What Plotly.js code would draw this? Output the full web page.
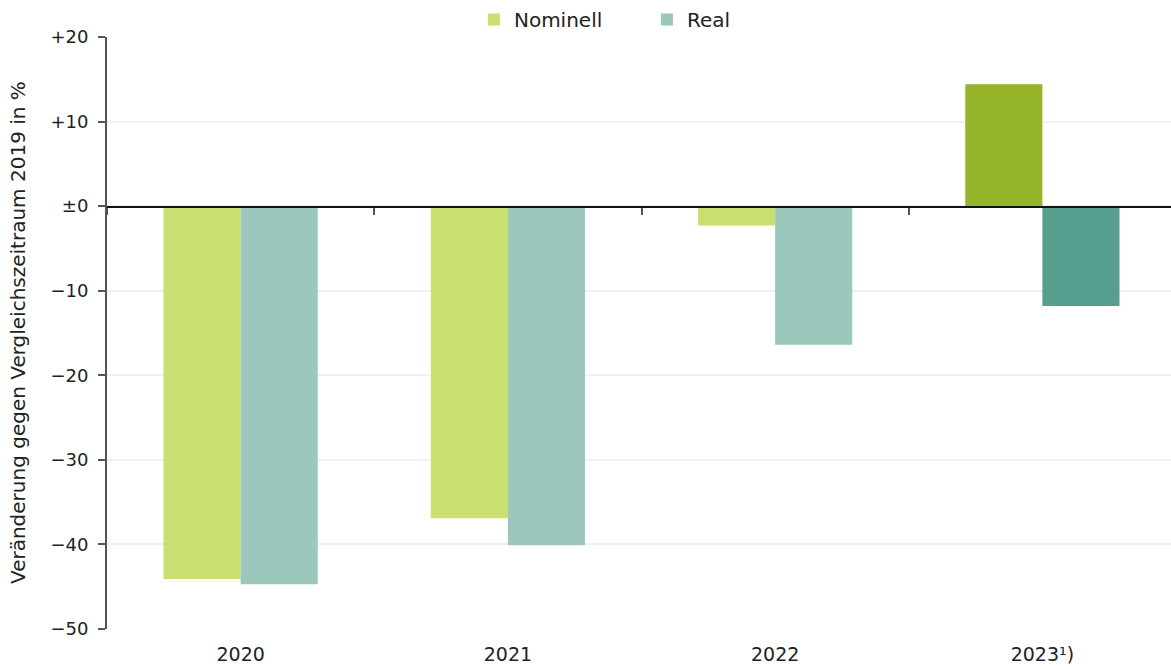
<!DOCTYPE html>
<html>
<head>
<meta charset="utf-8">
<script src="https://cdn.plot.ly/plotly-3.0.1.min.js"></script>
<style>
html,body{margin:0;padding:0;overflow:hidden;background:#fff;}
#chart{width:1176px;height:669px;}
</style>
</head>
<body>
<div id="chart"></div>
<script>
const categories = ["2020", "2021", "2022", "2023¹)"];
const nominell = [-44.1, -36.9, -2.3, 14.4];
const real = [-44.7, -40.1, -16.4, -11.8];
const yTickVals = [20, 10, 0, -10, -20, -30, -40, -50];
const yTickText = ["+20", "+10", "±0", "−10", "−20", "−30", "−40", "−50"];
const yTitle = "Veränderung gegen Vergleichszeitraum 2019 in %";

const nominellColors = ["#c9e070", "#c9e070", "#c9e070", "#96b42a"];
const realColors = ["#9bc7bc", "#9bc7bc", "#9bc7bc", "#569e8e"];

function mkFont(size) { return {family: "'DejaVu Sans', sans-serif", size: size, color: "#222"}; }

const traces = [
  {type: "bar", name: "Nominell", x: categories, y: nominell,
   marker: {color: nominellColors, line: {width: 0}}, xaxis: "x", yaxis: "y"},
  {type: "bar", name: "Real", x: categories, y: real,
   marker: {color: realColors, line: {width: 0}}, xaxis: "x", yaxis: "y"},
  {type: "bar", x: categories, y: [0, 0, 0, 0], xaxis: "x2", yaxis: "y",
   showlegend: false, hoverinfo: "skip", marker: {color: "rgba(0,0,0,0)"}}
];

const layout = {
  width: 1176, height: 669,
  margin: {l: 107, r: 0, t: 37, b: 40, autoexpand: false},
  paper_bgcolor: "#fff", plot_bgcolor: "#fff",
  font: mkFont(18),
  barmode: "group", bargap: 0.423, bargroupgap: 0,
  showlegend: true,
  legend: {orientation: "h", xref: "container", x: 0.403, xanchor: "left", y: 1.0, yanchor: "top",
           yref: "container", font: mkFont(20), traceorder: "normal",
           itemwidth: 30, entrywidth: 128, tracegroupgap: 0},
  xaxis: {type: "category", showline: false, ticks: "", showgrid: false, automargin: false,
          zeroline: false, tickfont: mkFont(19), fixedrange: true, ticklabelstandoff: 12},
  xaxis2: {type: "category", overlaying: "x", matches: "x", anchor: "free", position: 5/7,
           side: "bottom", showticklabels: false, showline: true, linecolor: "#111", linewidth: 1.5,
           ticks: "outside", tickson: "boundaries", ticklen: 7, tickwidth: 2, tickcolor: "#555",
           showgrid: false, zeroline: false},
  yaxis: {range: [-50, 20], tickvals: yTickVals, ticktext: yTickText, automargin: false,
          showline: true, linecolor: "#555", linewidth: 2,
          ticks: "outside", ticklen: 7, tickwidth: 2, tickcolor: "#555",
          showgrid: true, gridcolor: "#f0f0f0", gridwidth: 2,
          zeroline: false, tickfont: mkFont(18), ticklabelstandoff: 6},
  annotations: [{text: yTitle, textangle: -90, xref: "paper", yref: "paper",
                 x: -89 / 1069, y: 0.5, xanchor: "center", yanchor: "middle",
                 showarrow: false, font: mkFont(20)}]
};

Plotly.newPlot("chart", traces, layout, {displayModeBar: false, staticPlot: true});
</script>
</body>
</html>
